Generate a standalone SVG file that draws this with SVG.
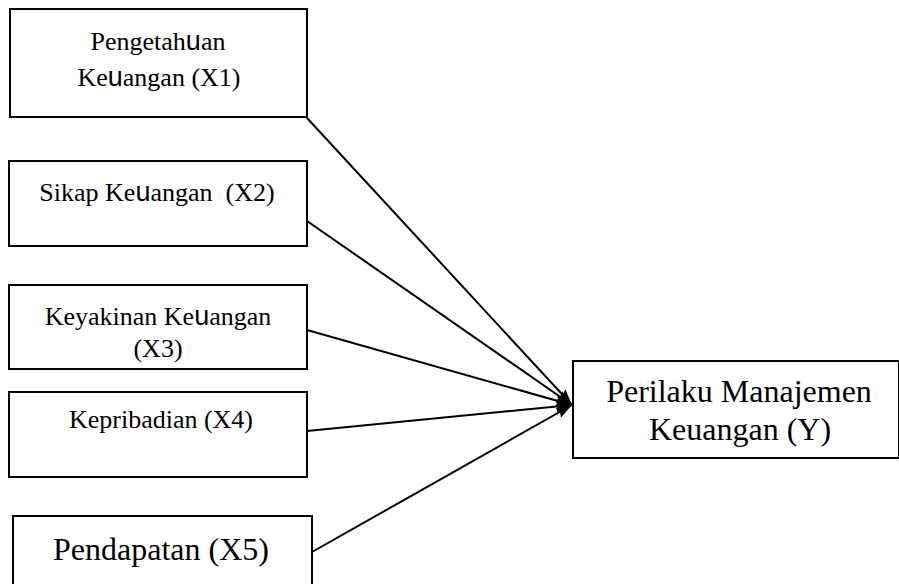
<svg xmlns="http://www.w3.org/2000/svg" width="899" height="584" viewBox="0 0 899 584">
<defs>
<style>
rect.box{fill:#fff;stroke:#000;stroke-width:2}
text{font-family:'Liberation Serif','DejaVu Serif',serif;fill:#000;text-anchor:middle}
.s{font-size:26px}
.l{font-size:32px}
.u{font-family:'Liberation Sans','DejaVu Sans',sans-serif;font-size:27px}
.c line{stroke:#000;stroke-width:2;marker-end:url(#ah)}
</style>
<marker id="ah" viewBox="0 0 14 10" refX="14" refY="5" markerWidth="8" markerHeight="6" markerUnits="strokeWidth" orient="auto">
<path d="M0,0 L14,5 L0,10 L2,5 Z" fill="#000"/>
</marker>
</defs>
<rect width="899" height="584" fill="#fff"/>
<g class="c">
<line x1="307" y1="118" x2="572" y2="405"/>
<line x1="307" y1="221" x2="572" y2="405"/>
<line x1="307" y1="330" x2="572" y2="405"/>
<line x1="307" y1="431" x2="572" y2="405"/>
<line x1="312" y1="552" x2="572" y2="405"/>
</g>
<g id="x1">
<rect class="box" x="10" y="9" width="297" height="108"/>
<text class="s" x="158" y="50">Pengetah<tspan class="u">u</tspan>an</text>
<text class="s" x="159" y="86">Ke<tspan class="u">u</tspan>angan (X1)</text>
</g>
<g id="x2">
<rect class="box" x="9" y="161" width="298" height="85"/>
<text class="s" x="157" y="201" xml:space="preserve">Sikap Ke<tspan class="u">u</tspan>angan  (X2)</text>
</g>
<g id="x3">
<rect class="box" x="9" y="285" width="298" height="84"/>
<text class="s" x="158" y="325">Keyakinan Ke<tspan class="u">u</tspan>angan</text>
<text class="s" x="158" y="357">(X3)</text>
</g>
<g id="x4">
<rect class="box" x="9" y="392" width="298" height="85"/>
<text class="s" x="161" y="428">Kepribadian (X4)</text>
</g>
<g id="x5">
<rect class="box" x="13" y="516" width="299" height="80"/>
<text class="l" x="161" y="560">Pendapatan (X5)</text>
</g>
<g id="y">
<rect class="box" x="573" y="361" width="326" height="97"/>
<text class="l" x="739" y="402">Perilaku Manajemen</text>
<text class="l" x="740" y="440">Keuangan (Y)</text>
</g>
</svg>
